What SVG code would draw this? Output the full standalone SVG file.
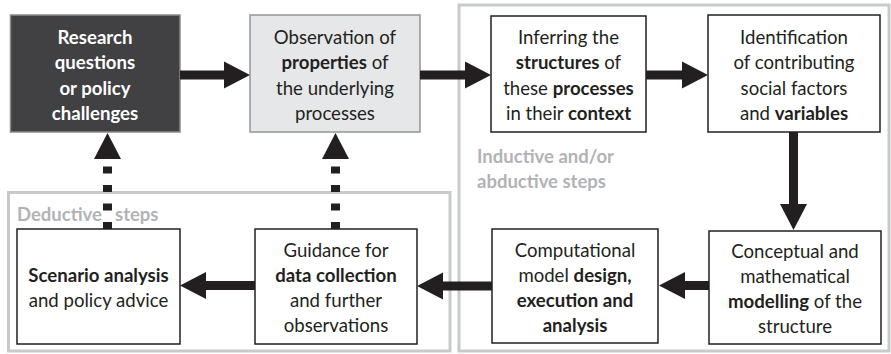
<svg xmlns="http://www.w3.org/2000/svg" xmlns:xlink="http://www.w3.org/1999/xlink" width="891" height="354" viewBox="0 0 891 354">
<style>
.frame{fill:none;stroke:#c8c9ca;stroke-width:3}
.box{fill:#fff;stroke:#231f20;stroke-width:1.5}
.dark{fill:#414042;stroke:#8a8a8c;stroke-width:1.5}
.light{fill:#e6e7e8;stroke:#939598;stroke-width:1.5}
.t{font-family:Lato,"Open Sans",sans-serif;font-size:18.6px;fill:#231f20;text-anchor:middle}
.w{fill:#fff;font-weight:bold}
.b{font-weight:bold}
.lbl{font-family:Lato,"Open Sans",sans-serif;font-size:18.5px;font-weight:bold;fill:#b1b3b6}
.arr{stroke:#231f20;stroke-width:9;fill:none;marker-end:url(#head)}
.dot{stroke:#231f20;stroke-width:9;fill:none;stroke-dasharray:7 11.5}
.hd{fill:#231f20}
</style>
<defs>
<path id="ah" d="M0,-13.5 L26,0 L0,13.5 z"/>
<marker id="head" markerUnits="userSpaceOnUse" markerWidth="27" markerHeight="28" viewBox="0 -14 27 28" refX="0" refY="0" orient="auto">
<path d="M0,-13.5 L26,0 L0,13.5 z" fill="#231f20"/>
</marker>
</defs>
<g id="frames">
<rect class="frame" x="8.5" y="192.5" width="441.5" height="158.5"/>
<rect class="frame" x="459" y="5" width="430" height="346"/>
<text class="lbl" x="17" y="221">Deductive <tspan x="115">steps</tspan></text>
<text class="lbl" x="477" y="163">Inductive and/or</text>
<text class="lbl" x="477" y="188">abductive steps</text>
</g>
<g id="n1">
<rect class="dark" x="10.5" y="15" width="169.5" height="117"/>
<text class="t w" x="95" y="43.5">Research</text>
<text class="t w" x="95" y="69">questions</text>
<text class="t w" x="95" y="94.5">or policy</text>
<text class="t w" x="95" y="120">challenges</text>
</g>
<g id="n2">
<rect class="light" x="250" y="15" width="170" height="117"/>
<text class="t" x="335" y="43.5">Observation of</text>
<text class="t" x="335" y="69"><tspan class="b">properties</tspan> of</text>
<text class="t" x="335" y="94.5">the underlying</text>
<text class="t" x="335" y="120">processes</text>
</g>
<g id="n3">
<rect class="box" x="491" y="16" width="155" height="116"/>
<text class="t" x="568.5" y="43.5">Inferring the</text>
<text class="t" x="568.5" y="69"><tspan class="b">structures</tspan> of</text>
<text class="t" x="568.5" y="94.5">these <tspan class="b">processes</tspan></text>
<text class="t" x="568.5" y="120">in their <tspan class="b">context</tspan></text>
</g>
<g id="n4">
<rect class="box" x="708" y="15" width="172" height="117"/>
<text class="t" x="794" y="43.5">Identification</text>
<text class="t" x="794" y="69">of contributing</text>
<text class="t" x="794" y="94.5">social factors</text>
<text class="t" x="794" y="120">and <tspan class="b">variables</tspan></text>
</g>
<g id="n5">
<rect class="box" x="709" y="231" width="172" height="113"/>
<text class="t" x="795" y="258">Conceptual and</text>
<text class="t" x="795" y="283">mathematical</text>
<text class="t" x="795" y="308"><tspan class="b">modelling</tspan> of the</text>
<text class="t" x="795" y="333">structure</text>
</g>
<g id="n6">
<rect class="box" x="492" y="229" width="166" height="114"/>
<text class="t" x="575" y="257">Computational</text>
<text class="t" x="575" y="282">model <tspan class="b">design,</tspan></text>
<text class="t b" x="575" y="307">execution and</text>
<text class="t b" x="575" y="332">analysis</text>
</g>
<g id="n7">
<rect class="box" x="255" y="229" width="162" height="115"/>
<text class="t" x="336" y="257">Guidance for</text>
<text class="t b" x="336" y="282">data collection</text>
<text class="t" x="336" y="307">and further</text>
<text class="t" x="336" y="332">observations</text>
</g>
<g id="n8">
<rect class="box" x="17" y="229" width="163" height="115"/>
<text class="t b" x="98.5" y="282">Scenario analysis</text>
<text class="t" x="98.5" y="307">and policy advice</text>
</g>
<g id="connectors">
<line class="arr" x1="180" y1="75" x2="224" y2="75"/>
<line class="arr" x1="420" y1="75" x2="465" y2="75"/>
<line class="arr" x1="646" y1="75" x2="682" y2="75"/>
<line class="arr" x1="793.5" y1="132" x2="793.5" y2="204"/>
<line class="arr" x1="709" y1="285.5" x2="685" y2="285.5"/>
<line class="arr" x1="492" y1="286" x2="443" y2="286"/>
<line class="arr" x1="255" y1="285.5" x2="206" y2="285.5"/>
<line class="dot" x1="107.5" y1="229" x2="107.5" y2="166"/>
<use class="hd" xlink:href="#ah" transform="translate(107.5,159) rotate(-90)"/>
<line class="dot" x1="335.5" y1="229" x2="335.5" y2="166"/>
<use class="hd" xlink:href="#ah" transform="translate(335.5,159) rotate(-90)"/>
</g>
</svg>
